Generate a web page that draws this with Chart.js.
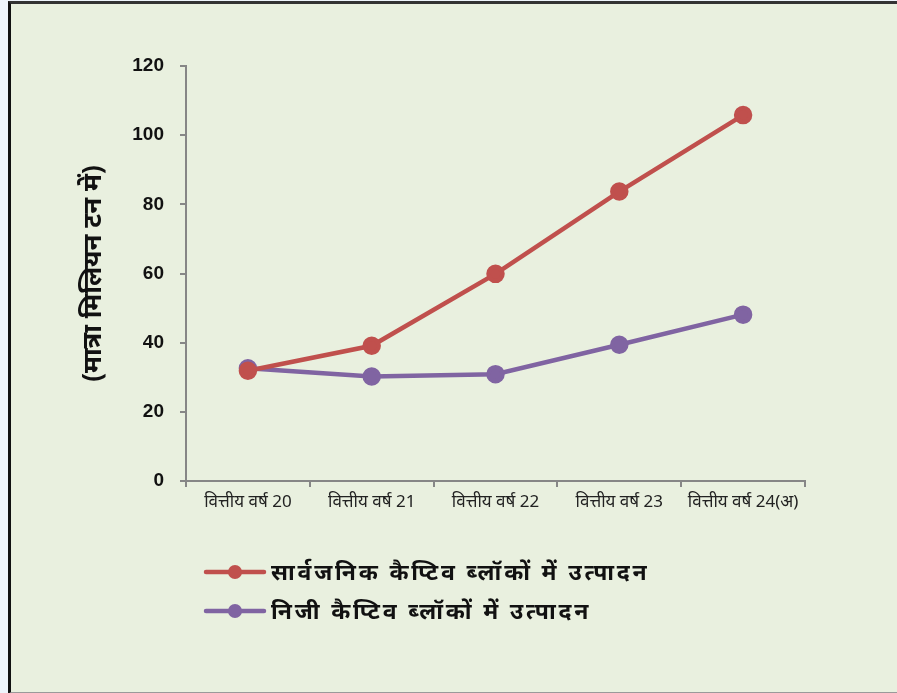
<!DOCTYPE html>
<html>
<head>
<meta charset="utf-8">
<script src="https://cdn.jsdelivr.net/npm/chart.js@4.4.1/dist/chart.umd.min.js"></script>
<style>
  html, body { margin: 0; padding: 0; background: #EEF4FB; }
  #panel {
    position: absolute; left: 8px; top: 1px; width: 886px; height: 688px;
    background: #E9F0DF;
    border-left: 3px solid #111; border-top: 3px solid #333;
    border-right: 2px solid #9a9a9a; border-bottom: 2px solid #9a9a9a;
  }
  #wrap { position: absolute; left: 0; top: 0; width: 897px; height: 693px; }
</style>
</head>
<body>
<div id="panel"></div>
<div id="wrap"><canvas id="chart" width="897" height="693"></canvas></div>
<script>
// datos
const categorias = ['वित्तीय वर्ष 20', 'वित्तीय वर्ष 21', 'वित्तीय वर्ष 22', 'वित्तीय वर्ष 23', 'वित्तीय वर्ष 24(अ)'];
const publico = [31.9, 39.1, 59.9, 83.7, 105.8];   // सार्वजनिक कैप्टिव ब्लॉकों में उत्पादन
const privado = [32.6, 30.2, 30.9, 39.4, 48.1];    // निजी कैप्टिव ब्लॉकों में उत्पादन
const nombres = ['सार्वजनिक कैप्टिव ब्लॉकों में उत्पादन', 'निजी कैप्टिव ब्लॉकों में उत्पादन'];
const tituloY = '(मात्रा मिलियन टन में)';

const ROJO = '#C0504D';
const MORADO = '#8064A2';
const EJE = '#868686';
const FUENTE = "'Noto Sans', 'Liberation Sans', sans-serif";
const NUMEROS = "'Liberation Sans', Arial, sans-serif";

// leyenda vertical propia (línea + punto + texto)
const leyenda = {
  id: 'leyenda',
  afterDraw(chart) {
    const ctx = chart.ctx;
    const items = chart.data.datasets;
    ctx.save();
    items.forEach((ds, i) => {
      const y = 572 + i * 39;
      ctx.strokeStyle = ds.borderColor;
      ctx.lineWidth = 4.5;
      ctx.lineCap = 'round';
      ctx.beginPath(); ctx.moveTo(206, y); ctx.lineTo(264, y); ctx.stroke();
      ctx.fillStyle = ds.backgroundColor;
      ctx.beginPath(); ctx.arc(235, y, 7, 0, Math.PI * 2); ctx.fill();
      ctx.fillStyle = '#111';
      ctx.font = 'bold 23px ' + FUENTE;
      if ('letterSpacing' in ctx) ctx.letterSpacing = '2.8px';
      ctx.textBaseline = 'middle';
      ctx.textAlign = 'left';
      ctx.fillText(ds.label, 271, y + 1);
    });
    ctx.restore();
  }
};

const ctx = document.getElementById('chart').getContext('2d');
new Chart(ctx, {
  type: 'line',
  data: {
    labels: categorias,
    datasets: [
      { label: nombres[0], data: publico, borderColor: ROJO, backgroundColor: ROJO,
        borderWidth: 4.5, pointRadius: 7, pointHoverRadius: 7, tension: 0 },
      { label: nombres[1], data: privado, borderColor: MORADO, backgroundColor: MORADO,
        borderWidth: 4.5, pointRadius: 7, pointHoverRadius: 7, tension: 0 }
    ]
  },
  options: {
    responsive: false,
    animation: false,
    layout: { padding: { left: 0, top: 66, right: 92, bottom: 172 } },
    plugins: { legend: { display: false }, tooltip: { enabled: false } },
    scales: {
      x: {
        offset: true,
        grid: { offset: true, drawOnChartArea: false, drawTicks: true, tickLength: 6, color: EJE, lineWidth: 2 },
        border: { display: true, color: EJE, width: 2 },
        ticks: { color: '#222', font: { family: FUENTE, size: 17 }, padding: 5, maxRotation: 0, autoSkip: false },
        afterFit: s => { s.height = 40; }
      },
      y: {
        min: 0, max: 120,
        grid: { drawOnChartArea: false, drawTicks: true, tickLength: 6, color: EJE, lineWidth: 2 },
        border: { display: true, color: EJE, width: 2 },
        ticks: { stepSize: 20, color: '#111', font: { family: NUMEROS, size: 19, weight: 'bold' }, padding: 16 },
        title: { display: true, text: tituloY, color: '#111',
                 font: { family: FUENTE, size: 26, weight: 'bold' }, padding: { top: 78, bottom: 0 } },
        afterFit: s => { s.width = 186; }
      }
    }
  },
  plugins: [leyenda]
});
</script>
</body>
</html>
